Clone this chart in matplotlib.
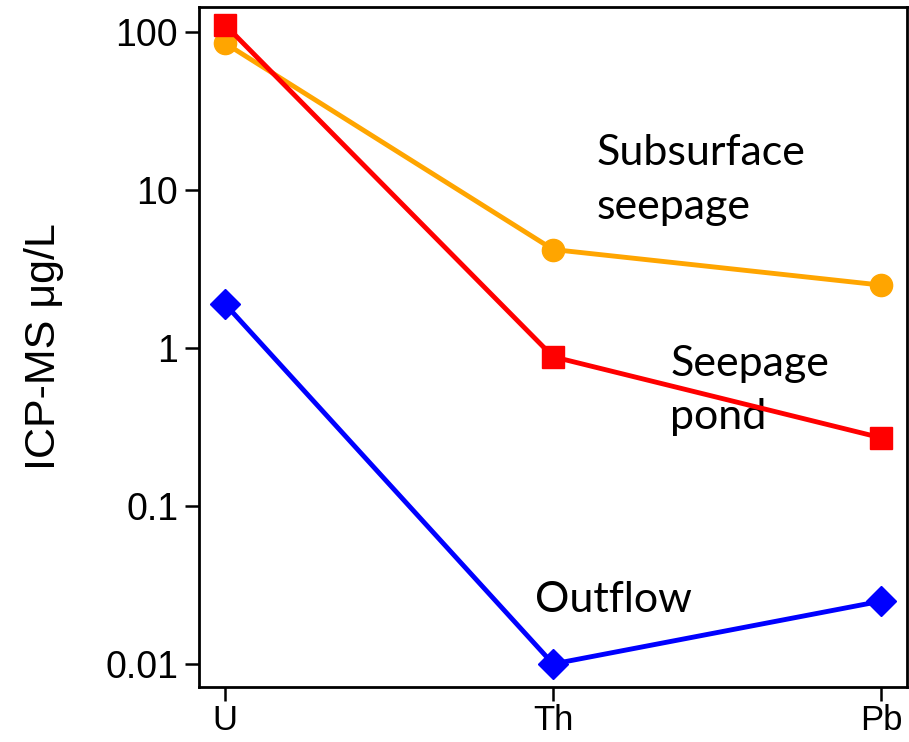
import matplotlib
matplotlib.use("Agg")
import matplotlib.pyplot as plt

elements = ["U", "Th", "Pb"]
subsurface = [85, 4.2, 2.5]
pond = [111, 0.88, 0.27]
outflow = [1.9, 0.01, 0.025]
yticks = [0.01, 0.1, 1, 10, 100]
ytick_labels = ["0.01", "0.1", "1", "10", "100"]

fig = plt.figure(figsize=(9.09, 7.42), dpi=100)
ax = fig.add_axes([0.219, 0.074, 0.779, 0.9166])
x = list(range(len(elements)))

ax.plot(x, subsurface, color="#FFA500", lw=3.5, marker="o", ms=16, zorder=3)
ax.plot(x, pond, color="#FF0000", lw=3.5, marker="s", ms=16, zorder=4)
ax.plot(x, outflow, color="#0000FF", lw=3.5, marker="D", ms=15, zorder=3)

ax.set_yscale("log")
ax.set_ylim(0.00714, 144)
ax.set_xlim(-0.079, 2.079)
ax.set_xticks(x)
ax.set_xticklabels(elements)
ax.set_yticks(yticks)
ax.set_yticklabels(ytick_labels)
ax.minorticks_off()
ax.tick_params(axis="y", labelsize=27, length=10, width=1.8, direction="out", pad=5)
ax.tick_params(axis="x", labelsize=25, length=10, width=1.8, direction="out", pad=2)
for lab in ax.get_xticklabels() + ax.get_yticklabels():
    lab.set_family("Liberation Sans")
for s in ax.spines.values():
    s.set_linewidth(2)
ax.set_ylabel("ICP-MS μg/L", fontsize=31, family="Liberation Sans", labelpad=30)

tf = dict(fontsize=31, family="Lato", va="center", ha="left", linespacing=1.5)
ax.text(1.131, 11.6, "Subsurface\nseepage", **tf)
ax.text(1.357, 0.54, "Seepage\npond", **tf)
ax.text(0.945, 0.0254, "Outflow", **tf)

fig.savefig("out.png", dpi=100)
